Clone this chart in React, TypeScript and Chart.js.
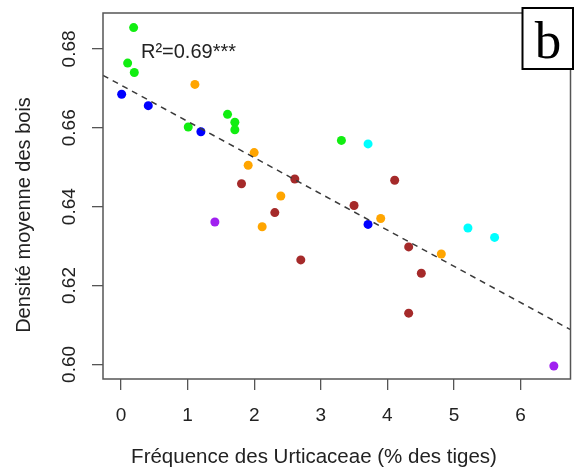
import React, { useEffect, useRef } from "react";
import { Chart, registerables } from "chart.js";
Chart.register(...registerables);

// ---- data ----
const greenX = [0.19, 0.10, 0.20, 1.60, 1.71, 1.71, 1.01, 3.31];
const greenY = [0.6854, 0.6764, 0.6740, 0.6634, 0.6614, 0.6595, 0.6602, 0.6568];
const blueX = [0.01, 0.41, 1.20, 3.71];
const blueY = [0.6685, 0.6656, 0.6590, 0.6355];
const orangeX = [1.11, 2.00, 1.91, 2.40, 2.12, 3.90, 4.81];
const orangeY = [0.6710, 0.6537, 0.6505, 0.6427, 0.6349, 0.6370, 0.6280];
const brownX = [1.81, 2.61, 2.31, 2.70, 4.11, 3.50, 4.32, 4.51, 4.32];
const brownY = [0.6458, 0.6470, 0.6385, 0.6265, 0.6467, 0.6403, 0.6298, 0.6231, 0.6130];
const purpleX = [1.41, 6.50];
const purpleY = [0.6361, 0.5996];
const cyanX = [3.71, 5.21, 5.61];
const cyanY = [0.6559, 0.6346, 0.6322];

// regression line end points
const fitX = [-0.27, 6.75];
const fitY = [0.6733, 0.6088];

const xTicks = [0, 1, 2, 3, 4, 5, 6];
const xTickLabels = ["0", "1", "2", "3", "4", "5", "6"];
const yTicks = [0.6, 0.62, 0.64, 0.66, 0.68];
const yTickLabels = ["0.60", "0.62", "0.64", "0.66", "0.68"];

const xTitle = "Fréquence des Urticaceae (% des tiges)";
const yTitle = "Densité moyenne des bois";
const r2Text = "R²=0.69***";
const panelLabel = "b";

const FONT = '"Liberation Sans", Arial, sans-serif';

const groups = [
  { xs: greenX, ys: greenY, color: "#11ee11" },
  { xs: blueX, ys: blueY, color: "#0000ff" },
  { xs: orangeX, ys: orangeY, color: "#ffa500" },
  { xs: brownX, ys: brownY, color: "#a52a2a" },
  { xs: purpleX, ys: purpleY, color: "#a020f0" },
  { xs: cyanX, ys: cyanY, color: "#00ffff" },
];

const decorPlugin = {
  id: "decor",
  afterDraw(chart: any) {
    const ctx = chart.ctx;
    const { left, right, top, bottom } = chart.chartArea;
    const xs = chart.scales.x;
    const ys = chart.scales.y;
    ctx.save();
    // frame
    ctx.strokeStyle = "#555";
    ctx.lineWidth = 1.5;
    ctx.strokeRect(left, top, right - left, bottom - top);

    // y tick labels (rotated)
    ctx.fillStyle = "#222";
    ctx.font = `19px ${FONT}`;
    ctx.textAlign = "center";
    ctx.textBaseline = "alphabetic";
    yTicks.forEach((v, i) => {
      const py = ys.getPixelForValue(v);
      ctx.save();
      ctx.translate(74.5, py);
      ctx.rotate(-Math.PI / 2);
      ctx.fillText(yTickLabels[i], 0, 0);
      ctx.restore();
    });

    // axis titles
    ctx.font = `20px ${FONT}`;
    ctx.save();
    ctx.translate(30, 215);
    ctx.rotate(-Math.PI / 2);
    ctx.fillText(yTitle, 0, 0);
    ctx.restore();
    ctx.font = `20.5px ${FONT}`;
    ctx.fillText(xTitle, 314, 463);

    // R² annotation
    ctx.font = `20px ${FONT}`;
    ctx.textAlign = "left";
    ctx.fillText(r2Text, xs.getPixelForValue(0.3), ys.getPixelForValue(0.6776));

    // panel label box
    ctx.fillStyle = "#fff";
    ctx.fillRect(522, 7, 52, 63);
    ctx.strokeStyle = "#000";
    ctx.lineWidth = 2;
    ctx.strokeRect(522.5, 8, 50.5, 61);
    ctx.fillStyle = "#000";
    ctx.font = '53px "Liberation Serif", "Times New Roman", serif';
    ctx.textAlign = "center";
    ctx.fillText(panelLabel, 548, 57.5);
    ctx.restore();
  },
};

export default function App() {
  const ref = useRef<HTMLCanvasElement>(null);
  useEffect(() => {
    const canvas = ref.current;
    if (!canvas) return;
    const datasets: any[] = [
      {
        type: "line",
        data: fitX.map((x, i) => ({ x, y: fitY[i] })),
        borderColor: "#3a3a3a",
        borderWidth: 1.5,
        borderDash: [6, 5],
        pointRadius: 0,
        fill: false,
        showLine: true,
      },
      ...groups.map((g) => ({
        type: "scatter",
        data: g.xs.map((x, i) => ({ x, y: g.ys[i] })),
        backgroundColor: g.color,
        borderWidth: 0,
        pointRadius: 4.5,
      })),
    ];
    const tickGrid = {
      display: true,
      drawOnChartArea: false,
      drawTicks: true,
      tickLength: 11,
      color: "#555",
      lineWidth: 1.3,
    };
    const chart = new Chart(canvas, {
      type: "scatter",
      data: { datasets },
      options: {
        responsive: false,
        animation: false,
        devicePixelRatio: 1,
        events: [],
        layout: { padding: { top: 13, right: 1, left: 0, bottom: 0 } },
        plugins: { legend: { display: false }, tooltip: { enabled: false } },
        scales: {
          x: {
            type: "linear",
            min: -0.27,
            max: 6.75,
            afterBuildTicks: (s: any) => {
              s.ticks = xTicks.map((v) => ({ value: v }));
            },
            afterFit: (s: any) => {
              s.height = 94;
            },
            grid: tickGrid,
            border: { display: false },
            ticks: {
              padding: 14,
              color: "#222",
              font: { family: FONT, size: 19 },
              maxRotation: 0,
              autoSkip: false,
              callback: (_v: any, i: number) => xTickLabels[i],
            },
          },
          y: {
            type: "linear",
            min: 0.5963,
            max: 0.6891,
            afterBuildTicks: (s: any) => {
              s.ticks = yTicks.map((v) => ({ value: v }));
            },
            afterFit: (s: any) => {
              s.width = 103;
            },
            grid: tickGrid,
            border: { display: false },
            ticks: { display: false },
          },
        },
      } as any,
      plugins: [decorPlugin],
    });
    return () => chart.destroy();
  }, []);
  return (
    <div style={{ position: "fixed", left: 0, top: 0, width: 575, height: 473, background: "#fff" }}>
      <canvas ref={ref} width={575} height={473} style={{ width: 575, height: 473, display: "block" }} />
    </div>
  );
}
